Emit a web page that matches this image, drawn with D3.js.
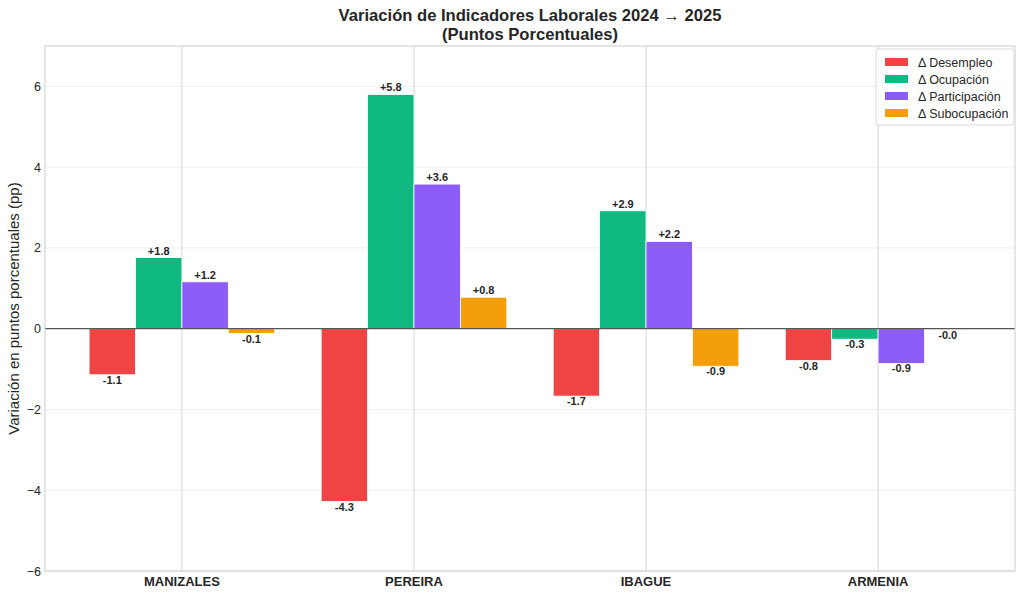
<!doctype html>
<html lang="es">
<head>
<meta charset="UTF-8">
<title>Variación de Indicadores Laborales</title>
<script src="https://cdn.jsdelivr.net/npm/d3@7"></script>
<style>
    body { margin: 0; background: #fff; font-family: "Liberation Sans", Arial, sans-serif; }
    svg text { fill: #262626; }
</style>
</head>
<body>
<svg id="chart" width="1024" height="597"></svg>
<script>
// data
const cities = ["MANIZALES", "PEREIRA", "IBAGUE", "ARMENIA"];
const series = ["Δ Desempleo", "Δ Ocupación", "Δ Participación", "Δ Subocupación"];
const colors = ["#ef4444", "#10b981", "#8b5cf6", "#f59e0b"];
const desempleo = [-1.14, -4.28, -1.67, -0.79];
const ocupacion = [1.76, 5.80, 2.92, -0.26];
const participacion = [1.16, 3.58, 2.16, -0.86];
const subocupacion = [-0.12, 0.78, -0.93, -0.02];
const yTicks = [-6, -4, -2, 0, 2, 4, 6];

const values = [desempleo, ocupacion, participacion, subocupacion];

const svg = d3.select("#chart");
const pL = 45, pR = 1015, pT = 46, pB = 571;
const barW = 0.2;

const x = d3.scaleLinear().domain([-0.59, 3.59]).range([pL, pR]);
const y = d3.scaleLinear().domain([-6, 7]).range([pB, pT]);

// horizontal grid
svg.append("g").selectAll("line").data(yTicks).join("line")
    .attr("x1", pL).attr("x2", pR)
    .attr("y1", d => y(d)).attr("y2", d => y(d))
    .attr("stroke", "#ebebeb").attr("stroke-width", 0.8);

// vertical grid at categories
svg.append("g").selectAll("line").data(cities).join("line")
    .attr("x1", (d, i) => x(i)).attr("x2", (d, i) => x(i))
    .attr("y1", pT).attr("y2", pB)
    .attr("stroke", "#d6d6d6").attr("stroke-width", 1);

// bars
const rows = [];
series.forEach((s, si) => {
    cities.forEach((c, ci) => {
        rows.push({ si, ci, v: values[si][ci] });
    });
});

const offset = si => (si - 1.5) * barW;

svg.append("g").selectAll("rect").data(rows).join("rect")
    .attr("x", d => x(d.ci + offset(d.si) - barW / 2))
    .attr("width", d => x(barW) - x(0))
    .attr("y", d => y(Math.max(0, d.v)))
    .attr("height", d => Math.abs(y(d.v) - y(0)))
    .attr("fill", d => colors[d.si])
    .attr("stroke", "#fff").attr("stroke-width", 0.8);

// value labels
svg.append("g").selectAll("text").data(rows).join("text")
    .attr("x", d => x(d.ci + offset(d.si)))
    .attr("y", d => d.v >= 0 ? y(d.v) - 3 : y(d.v) + 9)
    .attr("text-anchor", "middle")
    .attr("font-size", 11).attr("font-weight", "bold")
    .text(d => (d.v >= 0 ? "+" : "-") + Math.abs(d.v).toFixed(1));

// zero line
svg.append("line")
    .attr("x1", pL).attr("x2", pR)
    .attr("y1", y(0)).attr("y2", y(0))
    .attr("stroke", "#555").attr("stroke-width", 1.2);

// frame
svg.append("rect")
    .attr("x", pL).attr("y", pT)
    .attr("width", pR - pL).attr("height", pB - pT)
    .attr("fill", "none").attr("stroke", "#cccccc").attr("stroke-width", 1);

// y ticks
svg.append("g").selectAll("text").data(yTicks).join("text")
    .attr("x", pL - 4).attr("y", d => y(d) + 4.5)
    .attr("text-anchor", "end").attr("font-size", 12.5)
    .text(d => d < 0 ? "\u2212" + Math.abs(d) : d);

// category labels
svg.append("g").selectAll("text").data(cities).join("text")
    .attr("x", (d, i) => x(i)).attr("y", pB + 15)
    .attr("text-anchor", "middle").attr("font-size", 13).attr("font-weight", "bold")
    .text(d => d);

// y axis label
svg.append("text")
    .attr("transform", `translate(19,${(pT + pB) / 2}) rotate(-90)`)
    .attr("text-anchor", "middle").attr("font-size", 15)
    .text("Variación en puntos porcentuales (pp)");

// title
svg.append("text").attr("x", 530).attr("y", 21)
    .attr("text-anchor", "middle").attr("font-size", 16.6).attr("font-weight", "bold")
    .text("Variación de Indicadores Laborales 2024 → 2025");
svg.append("text").attr("x", 530).attr("y", 40)
    .attr("text-anchor", "middle").attr("font-size", 16.6).attr("font-weight", "bold")
    .text("(Puntos Porcentuales)");

// legend
const lg = svg.append("g").attr("transform", "translate(876,49)");
lg.append("rect").attr("width", 138).attr("height", 76).attr("rx", 2)
    .attr("fill", "#fff").attr("fill-opacity", 0.8).attr("stroke", "#d9d9d9");
series.forEach((s, i) => {
    const g = lg.append("g").attr("transform", `translate(9,${9 + i * 17})`);
    g.append("rect").attr("width", 23).attr("height", 8).attr("fill", colors[i]);
    g.append("text").attr("x", 33).attr("y", 8.5).attr("font-size", 12.5).text(s);
});
</script>
</body>
</html>
